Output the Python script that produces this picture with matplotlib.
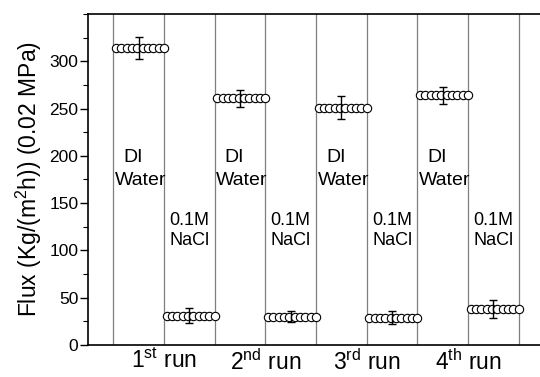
import numpy as np
import matplotlib
matplotlib.use("Agg")
import matplotlib.pyplot as plt
from matplotlib.ticker import MultipleLocator

plt.rcParams['font.family'] = ['Liberation Sans', 'DejaVu Sans']
plt.rcParams['mathtext.fontset'] = 'custom'
plt.rcParams['mathtext.rm'] = 'Liberation Sans'
plt.rcParams['mathtext.it'] = 'Liberation Sans:italic'

# Flux readings per stage (10 readings each), alternating DI water / 0.1M NaCl feed
stages = ["DI1", "NaCl1", "DI2", "NaCl2", "DI3", "NaCl3", "DI4", "NaCl4"]
flux_di1 = [314, 314, 314, 314, 314, 314, 314, 314, 314, 314]
flux_nacl1 = [31, 31, 31, 31, 31, 31, 31, 31, 31, 31]
flux_di2 = [261, 261, 261, 261, 261, 261, 261, 261, 261, 261]
flux_nacl2 = [30, 30, 30, 30, 30, 30, 30, 30, 30, 30]
flux_di3 = [251, 251, 251, 251, 251, 251, 251, 251, 251, 251]
flux_nacl3 = [29, 29, 29, 29, 29, 29, 29, 29, 29, 29]
flux_di4 = [264, 264, 264, 264, 264, 264, 264, 264, 264, 264]
flux_nacl4 = [38, 38, 38, 38, 38, 38, 38, 38, 38, 38]
flux_errors = [12, 8, 9, 6, 12.5, 6.5, 9, 10]

y_ticks = [0, 50, 100, 150, 200, 250, 300]
run_labels = ["1$^{\\rm st}$ run", "2$^{\\rm nd}$ run", "3$^{\\rm rd}$ run", "4$^{\\rm th}$ run"]
stage_texts = ["DI\nWater", "0.1M\nNaCl"]

all_flux = [flux_di1, flux_nacl1, flux_di2, flux_nacl2,
            flux_di3, flux_nacl3, flux_di4, flux_nacl4]

fig = plt.figure(figsize=(5.40, 3.77), dpi=100)
ax = fig.add_axes([0.163, 0.085, 0.84, 0.878])

# stage boundaries
for b in range(1, 10):
    ax.axvline(b, color='#7f7f7f', lw=0.9, zorder=0)

for i, vals in enumerate(all_flux):
    start = i + 1
    xs = np.linspace(start + 0.05, start + 1.0, len(vals))
    ax.plot(xs, vals, 'o', ms=6.0, mfc='white', mec='black', mew=0.8, zorder=3)
    ax.errorbar(start + 0.5, np.mean(vals), yerr=flux_errors[i], fmt='none',
                ecolor='black', elinewidth=1.0, capsize=3, capthick=1.0, zorder=4)
    if i % 2 == 0:
        ax.text(start + 0.2, 198, "DI", ha='left', va='center', fontsize=14, zorder=5)
        ax.text(start + 0.03, 174, "Water", ha='left', va='center', fontsize=14, zorder=5)
    else:
        ax.text(start + 0.5, 121, stage_texts[1], ha='center', va='center',
                fontsize=13, linespacing=1.25, zorder=5)

ax.set_xlim(0.5, 9.45)
ax.set_ylim(0, 350)
ax.set_xticks([2, 4, 6, 8])
ax.set_xticklabels(run_labels, fontsize=16.5)
ax.tick_params(axis='x', length=0, pad=3)
ax.set_yticks(y_ticks)
ax.yaxis.set_minor_locator(MultipleLocator(25))
ax.tick_params(axis='y', which='major', length=6, width=1, labelsize=12.5, pad=1)
ax.tick_params(axis='y', which='minor', length=3.5, width=0.8)
ax.spines['right'].set_visible(False)
for s in ['left', 'bottom', 'top']:
    ax.spines[s].set_linewidth(1.2)

ax.set_ylabel("Flux (Kg/(m$^2$h)) (0.02 MPa)", fontsize=16.5, labelpad=4)

fig.savefig("out.png", dpi=100)
